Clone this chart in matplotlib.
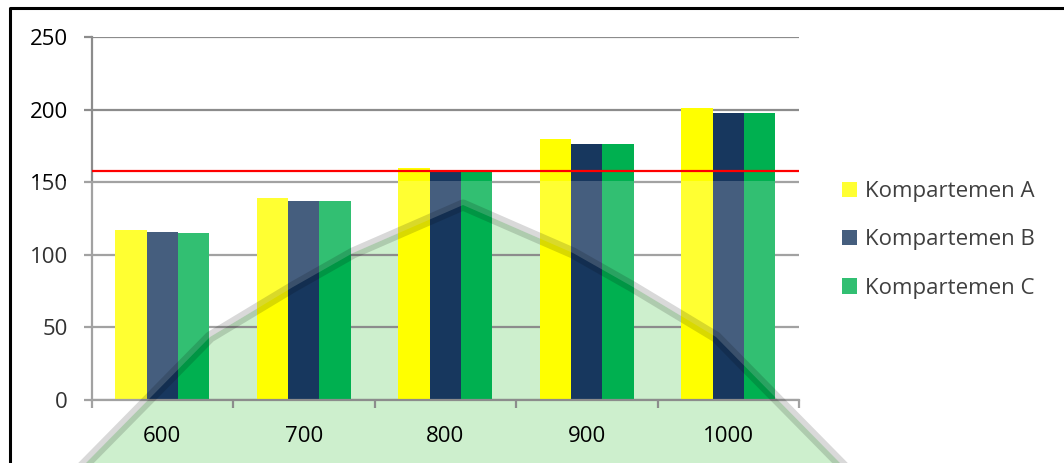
import matplotlib
matplotlib.use("Agg")
import matplotlib.pyplot as plt
import numpy as np
from matplotlib.path import Path
from matplotlib.patches import PathPatch, Polygon
from matplotlib.lines import Line2D

# Data
categories = ["600", "700", "800", "900", "1000"]
series_names = ["Kompartemen A", "Kompartemen B", "Kompartemen C"]
komp_a = [117, 139, 160, 180, 201]
komp_b = [116, 137, 158, 176, 198]
komp_c = [115, 137, 157, 176, 198]
reference_level = 158
y_ticks = [0, 50, 100, 150, 200, 250]

colors = ["#FFFF00", "#17375E", "#00B050"]
W, H = 1064, 463

plt.rcParams["font.family"] = ["Open Sans", "DejaVu Sans"]

fig = plt.figure(figsize=(W / 100, H / 100), dpi=100, facecolor="white")


def fx(x):
    return x / W


def fy(y):
    return 1 - y / H


ax = fig.add_axes([fx(91.6), fy(400), fx(799) - fx(91.6), fy(37) - fy(400)])
ax.set_facecolor("none")
ax.set_zorder(1)

x = np.arange(len(categories))
bw = 0.221
for i, (vals, c) in enumerate(zip([komp_a, komp_b, komp_c], colors)):
    ax.bar(x + (i - 1) * bw, vals, width=bw, color=c, label=series_names[i],
           zorder=2, linewidth=0)

ax.axhline(reference_level, color="#FF0000", lw=1.6, zorder=3)

ax.set_xlim(-0.5, len(categories) - 0.5)
ax.set_ylim(0, 250)
ax.set_yticks(y_ticks)
ax.set_yticklabels([str(t) for t in y_ticks])
ax.set_xticks(x)
ax.set_xticklabels(categories)
ax.set_xticks(np.arange(len(categories) + 1) - 0.5, minor=True)

grid_c = "#8C8C8C"
ax.yaxis.grid(True, color=grid_c, lw=1.6)
ax.set_axisbelow(True)
for s in ["top", "right"]:
    ax.spines[s].set_visible(False)
for s in ["left", "bottom"]:
    ax.spines[s].set_color(grid_c)
    ax.spines[s].set_linewidth(1.6)

ax.tick_params(axis="y", which="major", direction="out", length=6, width=1.6,
               color=grid_c, pad=11, labelsize=16, labelcolor="black")
ax.tick_params(axis="x", which="major", length=0, pad=19, labelsize=16,
               labelcolor="black")
ax.tick_params(axis="x", which="minor", direction="out", length=6, width=1.6,
               color=grid_c)

leg = ax.legend(loc="upper left", bbox_to_anchor=(fx(842), fy(181)),
                bbox_transform=fig.transFigure, frameon=False, fontsize=16,
                handlelength=0.68, handleheight=0.68, handletextpad=0.36,
                labelspacing=1.23, borderaxespad=0, borderpad=0)
for t in leg.get_texts():
    t.set_color("#111111")

# Watermark shape (pale emblem behind the lower part of the chart)
emblem_px = [(86, 463), (151, 397), (210, 337), (293, 287), (353, 253),
             (463, 205), (573, 253), (633, 287), (716, 337), (775, 397),
             (840, 463)]
emblem = [(fx(a), fy(b)) for a, b in emblem_px]
fig.patches.append(Polygon(emblem, closed=True, transform=fig.transFigure,
                           facecolor="#CDEFCD", edgecolor="none", zorder=0))

# Haze over the lower part, leaving the emblem area clear
rect = [(fx(0), fy(181)), (fx(W), fy(181)), (fx(W), fy(H + 5)),
        (fx(0), fy(H + 5)), (fx(0), fy(181))]
hole = emblem[::-1] + [emblem[-1]]
verts = rect + hole
codes = ([Path.MOVETO] + [Path.LINETO] * 3 + [Path.CLOSEPOLY] +
         [Path.MOVETO] + [Path.LINETO] * (len(hole) - 2) + [Path.CLOSEPOLY])
haze = PathPatch(Path(verts, codes), transform=fig.transFigure,
                 facecolor="white", alpha=0.2, edgecolor="none", zorder=5)
fig.patches.append(haze)

# Emblem outline band
ex, ey = zip(*emblem)
fig.lines.append(Line2D(ex, ey, transform=fig.transFigure, color="black",
                        alpha=0.15, lw=8, zorder=6, solid_joinstyle="round"))

# Outer frame (left and top edges)
fig.lines.append(Line2D([fx(9.5), fx(9.5), fx(W + 5)],
                        [fy(H + 5), fy(7.5), fy(7.5)],
                        transform=fig.transFigure, color="black", lw=2.2,
                        zorder=10))

fig.savefig("out.png", dpi=100, facecolor="white")
